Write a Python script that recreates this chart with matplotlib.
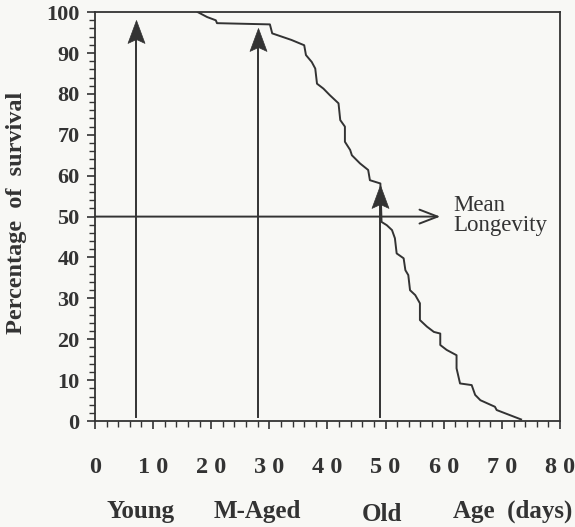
import numpy as np
import matplotlib
matplotlib.use("Agg")
import matplotlib.pyplot as plt
from matplotlib.path import Path
from matplotlib.ticker import MultipleLocator

# survival curve
age = [17.7, 19.3, 20.8, 21.0, 30.1, 30.5, 33.8, 36.0, 36.3, 37.3, 37.9, 38.2,
       39.3, 40.4, 41.9, 42.2, 43.0, 43.0, 43.9, 44.2, 45.6, 47.0, 47.3, 49.1,
       49.3, 50.2, 51.1, 51.6, 51.9, 53.1, 53.4, 53.9, 54.2, 55.1, 55.9, 55.9,
       57.1, 58.3, 59.4, 59.4, 60.5, 62.2, 62.2, 62.8, 64.8, 65.4, 66.3, 68.8,
       69.1, 73.3]
survival = [100, 98.8, 98.0, 97.3, 97.0, 94.8, 93.2, 91.9, 89.5, 87.8, 86.2, 82.5,
            81.3, 79.7, 77.7, 73.6, 72.0, 68.3, 66.3, 65.0, 63.0, 61.4, 58.9, 58.1,
            48.7, 47.9, 46.7, 44.7, 41.0, 39.8, 36.9, 35.7, 32.0, 30.8, 28.8, 24.7,
            23.1, 21.8, 21.4, 18.6, 17.4, 16.1, 12.9, 9.2, 8.8, 6.4, 5.1, 3.5,
            2.7, 0.4]

# age groups: arrow x position and arrow tip
group_names = ["Young", "M-Aged", "Old"]
group_age = [7.0, 28.1, 49.1]
group_top = [98.0, 96.1, 57.7]
group_label_x = [7.9, 27.9, 49.4]

mean_level = 50
mean_arrow_end = 59.4

xtick_vals = [0, 10, 20, 30, 40, 50, 60, 70, 80]
xtick_labels = ["0", "1 0", "2 0", "3 0", "4 0", "5 0", "6 0", "7 0", "8 0"]
ytick_vals = [0, 10, 20, 30, 40, 50, 60, 70, 80, 90, 100]

ink = "#333333"
bg = "#f8f8f5"
serif = ["Liberation Serif", "DejaVu Serif"]

# notched ("stealth") arrow head, tip at the origin
stealth = Path([(0, 0), (-0.37, -1), (0, -0.83), (0.37, -1), (0, 0)],
               [Path.MOVETO, Path.LINETO, Path.LINETO, Path.LINETO, Path.CLOSEPOLY])

fig = plt.figure(figsize=(5.75, 5.27), dpi=100, facecolor=bg)
ax = fig.add_axes([0.165, 0.201, 0.809, 0.776])
ax.set_facecolor(bg)

ax.plot(age, survival, color=ink, lw=1.4)

for x, top in zip(group_age, group_top):
    ax.plot([x, x], [1, top - 3], color=ink, lw=1.4)
    ax.plot([x], [top], marker=stealth, markersize=33, color=ink, mec=ink, mew=0.5)

ax.annotate("", xy=(mean_arrow_end, mean_level), xytext=(0, mean_level),
            arrowprops=dict(arrowstyle="->,head_length=1.3,head_width=0.5",
                            color=ink, lw=1.4, shrinkA=0, shrinkB=0))
ax.text(61.6, 50.2, "Mean\nLongevity", family=serif, fontsize=16.5, color=ink,
        va="center", ha="left", linespacing=0.95)

ax.set_xlim(0, 80)
ax.set_ylim(0, 100)
ax.set_xticks(xtick_vals)
ax.set_xticklabels(xtick_labels)
ax.set_yticks(ytick_vals)
ax.xaxis.set_minor_locator(MultipleLocator(2))
ax.yaxis.set_minor_locator(MultipleLocator(2))
ax.tick_params(which="major", direction="out", length=6, width=1.2, color=ink)
ax.tick_params(which="minor", direction="out", length=4, width=1.0, color=ink)
ax.tick_params(axis="x", pad=20)
ax.tick_params(axis="y", pad=5)

for lab in ax.get_xticklabels():
    lab.set_family(serif)
    lab.set_fontweight("bold")
    lab.set_fontsize(17.5)
    lab.set_color(ink)
for lab in ax.get_yticklabels():
    lab.set_family(serif)
    lab.set_fontweight("bold")
    lab.set_fontsize(16)
    lab.set_color(ink)

for sp in ax.spines.values():
    sp.set_color(ink)
    sp.set_linewidth(1.3)

ax.set_ylabel("Percentage  of  survival", family=serif, fontweight="bold",
              fontsize=17.5, color=ink)
ax.yaxis.set_label_coords(-0.145, 0.51)

label_y = -22.0
for name, x in zip(group_names, group_label_x):
    dy = -0.9 if name == "Old" else 0
    ax.text(x, label_y + dy, name, family=serif, fontweight="bold", fontsize=18,
            color=ink, ha="center", va="center", clip_on=False)
ax.text(71.8, label_y, "Age  (days)", family=serif, fontweight="bold",
        fontsize=18, color=ink, ha="center", va="center", clip_on=False)

fig.savefig("out.png", dpi=100, facecolor=bg)
